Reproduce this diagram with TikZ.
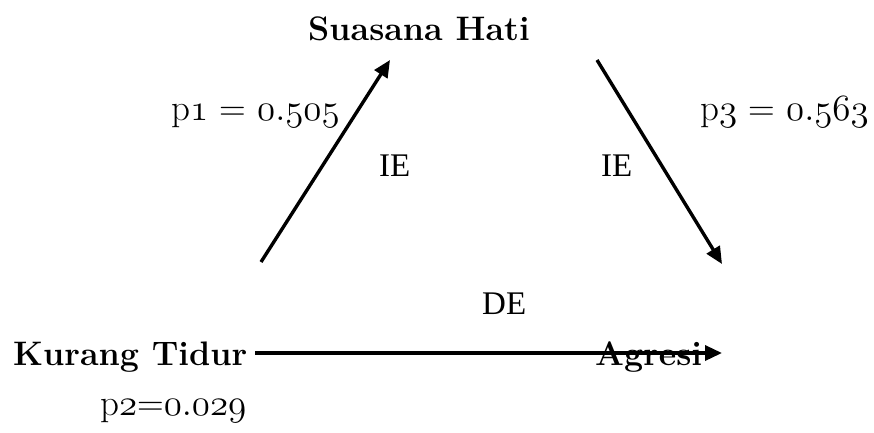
\RequirePackage{fix-cm}
\documentclass[tikz,border=0pt]{standalone}
\usepackage{fontspec}
\usetikzlibrary{arrows.meta}
\newfontfamily\timesfont{Liberation Serif}
\newcommand\osn[1]{\ensuremath{\mathnormal{#1}}}
\begin{document}
\begin{tikzpicture}[x=1pt,y=-1pt,
  conn/.style={line width=3.4pt,-{Triangle[length=17pt,width=15pt]}},
  varlbl/.style={font=\bfseries\fontsize{34}{38}\selectfont,inner sep=0pt,anchor=base west},
  plbl/.style={font=\fontsize{37}{42}\selectfont,inner sep=0pt,anchor=base west},
  efflbl/.style={font=\timesfont\fontsize{33}{38}\selectfont,inner sep=0pt,anchor=base west}]
\useasboundingbox (0,0) rectangle (874,432);
\node[varlbl] (sh) at (308,40) {Suasana Hati};
\node[varlbl] (kt) at (13,365) {Kurang Tidur};
\node[varlbl] (ag) at (595,365) {Agresi};
\node[plbl] (p1) at (171,120) {p\osn{1} = \osn{0.505}};
\node[plbl] (p3) at (700,120) {p\osn{3} = \osn{0.563}};
\node[plbl] (p2) at (100,415) {p\osn{2}=\osn{0.029}};
\node[efflbl] (ie1) at (379,176) {IE};
\node[efflbl] (ie2) at (601,176) {IE};
\node[efflbl] (de) at (482,314) {DE};
\coordinate (a1s) at (261,262);
\coordinate (a1e) at (390,60);
\coordinate (a2s) at (597,60);
\coordinate (a2e) at (722,264);
\coordinate (a3s) at (255,353);
\coordinate (a3e) at (722,353);
\draw[conn] (a1s) -- (a1e);
\draw[conn] (a2s) -- (a2e);
\draw[conn] (a3s) -- (a3e);
\end{tikzpicture}
\end{document}
